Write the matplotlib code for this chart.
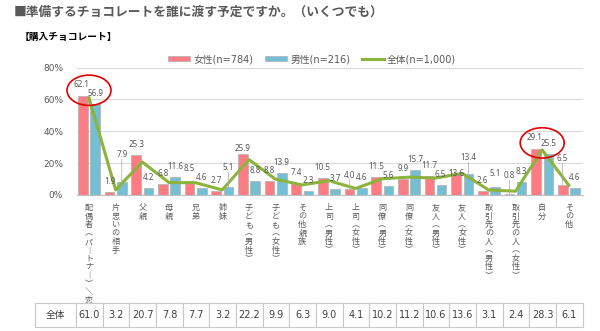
import matplotlib
matplotlib.use("Agg")
import matplotlib.pyplot as plt
from matplotlib.patches import Ellipse
import numpy as np

plt.rcParams['font.family'] = ['DejaVu Sans', 'Noto Sans CJK JP']

title = "■準備するチョコレートを誰に渡す予定ですか。（いくつでも）"
subtitle = "【購入チョコレート】"
categories = ["配偶者（パートナー）／恋人", "片思いの相手", "父親", "母親", "兄弟", "姉妹",
              "子ども（男性）", "子ども（女性）", "その他親族", "上司（男性）", "上司（女性）",
              "同僚（男性）", "同僚（女性）", "友人（男性）", "友人（女性）",
              "取引先の人（男性）", "取引先の人（女性）", "自分", "その他"]
female = [62.1, 1.9, 25.3, 6.8, 8.5, 2.7, 25.9, 8.8, 7.4, 10.5, 4.0, 11.5, 9.9, 11.7, 13.6, 2.6, 0.8, 29.1, 6.5]
male = [56.9, 7.9, 4.2, 11.6, 4.6, 5.1, 8.8, 13.9, 2.3, 3.7, 4.6, 5.6, 15.7, 6.5, 13.4, 5.1, 8.3, 25.5, 4.6]
total = [61.0, 3.2, 20.7, 7.8, 7.7, 3.2, 22.2, 9.9, 6.3, 9.0, 4.1, 10.2, 11.2, 10.6, 13.6, 3.1, 2.4, 28.3, 6.1]
series_names = ["女性(n=784)", "男性(n=216)", "全体(n=1,000)"]
table_header = "全体"
yticks = [0, 20, 40, 60, 80]
highlight = [0, 17]

C_F = "#ff7c82"
C_M = "#74bfd3"
C_T = "#8cb43c"
GRAY = "#595959"

# label placement tweaks (pixels above bar top, horizontal shift)
label_lift = {('f', 0): 12, ('m', 1): 28, ('f', 4): 13, ('m', 5): 19, ('f', 6): 5,
              ('f', 10): 13.6, ('f', 14): 0, ('m', 14): 16, ('m', 15): 13,
              ('f', 16): 18, ('f', 18): 26, ('f', 17): 11}
label_dx = {('f', 0): -1, ('f', 14): 0.5, ('m', 13): -1.5, ('f', 17): -1.5, ('f', 18): -1}

def vertical(s):
    mp = {'（': '︵', '）': '︶', 'ー': '︱', '／': '＼'}
    return "\n".join(mp.get(c, c) for c in s)

fig = plt.figure(figsize=(6.0, 3.31), dpi=100)
W, H = 600, 331
ax = fig.add_axes([77 / W, 1 - 195 / H, (582.7 - 77) / W, (195 - 67.5) / H])

x = np.arange(len(categories))
bw = 0.36
hf = ax.bar(x - 0.23, female, bw, color=C_F, edgecolor="#b0b0b0", linewidth=0.5, zorder=2)
hm = ax.bar(x + 0.23, male, bw, color=C_M, edgecolor="#b0b0b0", linewidth=0.5, zorder=2)
ht, = ax.plot(x, total, color=C_T, lw=2.2, zorder=3)

ax.set_xlim(-0.45, 18.52)
ax.set_ylim(0, 80)
ax.set_yticks(yticks)
ax.set_yticklabels([f"{v}%" for v in yticks], fontsize=6.5, color=GRAY)
ax.grid(axis='y', color="#d9d9d9", lw=0.8, zorder=0)
ax.set_axisbelow(True)
for s in ['top', 'right', 'left']:
    ax.spines[s].set_visible(False)
ax.spines['bottom'].set_color("#bfbfbf")
ax.tick_params(axis='y', length=0, pad=10)
ax.set_xticks(x)
ax.set_xticklabels([vertical(c) for c in categories], fontsize=5.8, color=GRAY,
                   family=['Noto Sans CJK JP', 'DejaVu Sans'], va='top')
for t in ax.get_xticklabels():
    t.set_linespacing(0.92)
ax.tick_params(axis='x', length=0, pad=6)

def put_labels(key, vals, off):
    for i, v in enumerate(vals):
        lift = label_lift.get((key, i), 10.5)
        dx = label_dx.get((key, i), 0)
        ax.annotate(f"{v:.1f}", (i + off, v), xytext=(dx, lift), textcoords='offset pixels',
                    ha='center', va='center', fontsize=5.8, color=GRAY, family='Noto Sans', zorder=5)
        if lift >= 13.5:
            ax.annotate("", (i + off, v), xytext=(0, lift - 4.5), textcoords='offset pixels',
                        arrowprops=dict(arrowstyle='-', color="#a6a6a6", lw=0.5,
                                        shrinkA=0, shrinkB=0), zorder=4)

put_labels('f', female, -0.23)
put_labels('m', male, 0.23)

for i in highlight:
    cy = max(female[i], male[i]) + 3.6
    ax.add_patch(Ellipse((i, cy), 1.65, 19, fill=False, edgecolor="#e00000", lw=1.2,
                         clip_on=False, zorder=6))

fig.legend([hf, hm, ht], series_names, loc='center', bbox_to_anchor=(0.52, 1 - 59 / H), ncol=3,
           frameon=False, fontsize=7, handlelength=2.3, handleheight=0.5, columnspacing=1.2,
           handletextpad=0.3, labelcolor=GRAY)

fig.text(14 / W, 1 - 12 / H, title, fontsize=9.2, fontweight='bold', color=GRAY,
         va='center', family=['Noto Sans CJK JP', 'DejaVu Sans'])
fig.text(20 / W, 1 - 37 / H, subtitle, fontsize=7, fontweight='bold', color='black',
         va='center', family=['Noto Sans CJK JP', 'DejaVu Sans'])

tax = fig.add_axes([35 / W, 1 - 327.3 / H, (582.7 - 35) / W, 24 / H])
tax.axis('off')
colw = [41] + [26.62] * len(total)
tbl = tax.table(cellText=[[table_header] + [f"{v:.1f}" for v in total]],
                colWidths=[c / sum(colw) for c in colw], bbox=[0, 0, 1, 1], cellLoc='center')
tbl.auto_set_font_size(False)
for (r, c), cell in tbl.get_celld().items():
    cell.set_edgecolor("#c8c8c8")
    cell.set_linewidth(0.8)
    cell.get_text().set_fontsize(7)
    cell.get_text().set_color("#404040")
    if c == 0:
        cell.get_text().set_fontfamily(['Noto Sans CJK JP', 'DejaVu Sans'])

fig.savefig("out.png", dpi=100)
